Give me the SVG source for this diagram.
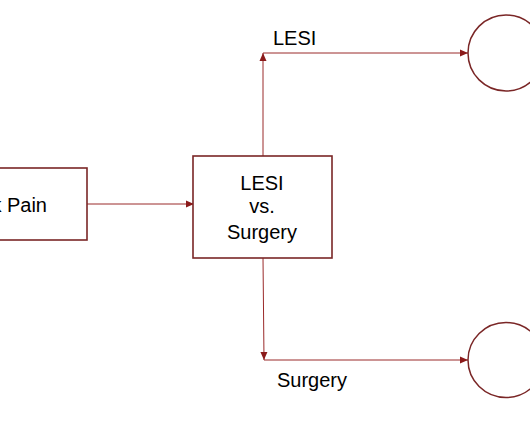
<svg xmlns="http://www.w3.org/2000/svg" width="530" height="442" viewBox="0 0 530 442">
<style>
.box{fill:#fff;stroke:#7a2626;stroke-width:1.6}
.circ{fill:#fff;stroke:#7a2626;stroke-width:1.5}
.ln{fill:none;stroke:#9a2a2a;stroke-width:1}
.t{font-family:"Liberation Sans",Arial,sans-serif;font-size:20px;fill:#000}
</style>
<defs>
<marker id="ah" viewBox="0 0 8 8" refX="8" refY="4" markerWidth="8" markerHeight="8" markerUnits="userSpaceOnUse" orient="auto">
<path d="M0,0.5 L8,4 L0,7.5 Z" fill="#8b1a1a"/>
</marker>
</defs>
<rect width="530" height="442" fill="#fff"/>
<g id="connectors">
<line class="ln" x1="87" y1="204" x2="194" y2="204" marker-end="url(#ah)"/>
<line class="ln" x1="263" y1="156" x2="263" y2="53" marker-end="url(#ah)"/>
<line class="ln" x1="263" y1="53" x2="468" y2="53" marker-end="url(#ah)"/>
<line class="ln" x1="263" y1="258" x2="264" y2="360" marker-end="url(#ah)"/>
<line class="ln" x1="264" y1="360" x2="468" y2="360" marker-end="url(#ah)"/>
</g>
<g id="pain">
<rect class="box" x="-40" y="168" width="127" height="72"/>
<text class="t" x="47" y="212" text-anchor="end">Back Pain</text>
</g>
<g id="decision">
<rect class="box" x="193" y="156" width="139" height="102"/>
<text class="t" x="262" y="190" text-anchor="middle">LESI</text>
<text class="t" x="262" y="213" text-anchor="middle">vs.</text>
<text class="t" x="262" y="239" text-anchor="middle">Surgery</text>
</g>
<g id="lesi-outcome">
<ellipse class="circ" cx="506" cy="53" rx="38" ry="38"/>
</g>
<g id="surgery-outcome">
<ellipse class="circ" cx="506" cy="360" rx="38" ry="37.5"/>
</g>
<g id="labels">
<text class="t" x="273" y="45">LESI</text>
<text class="t" x="277" y="387">Surgery</text>
</g>
</svg>
